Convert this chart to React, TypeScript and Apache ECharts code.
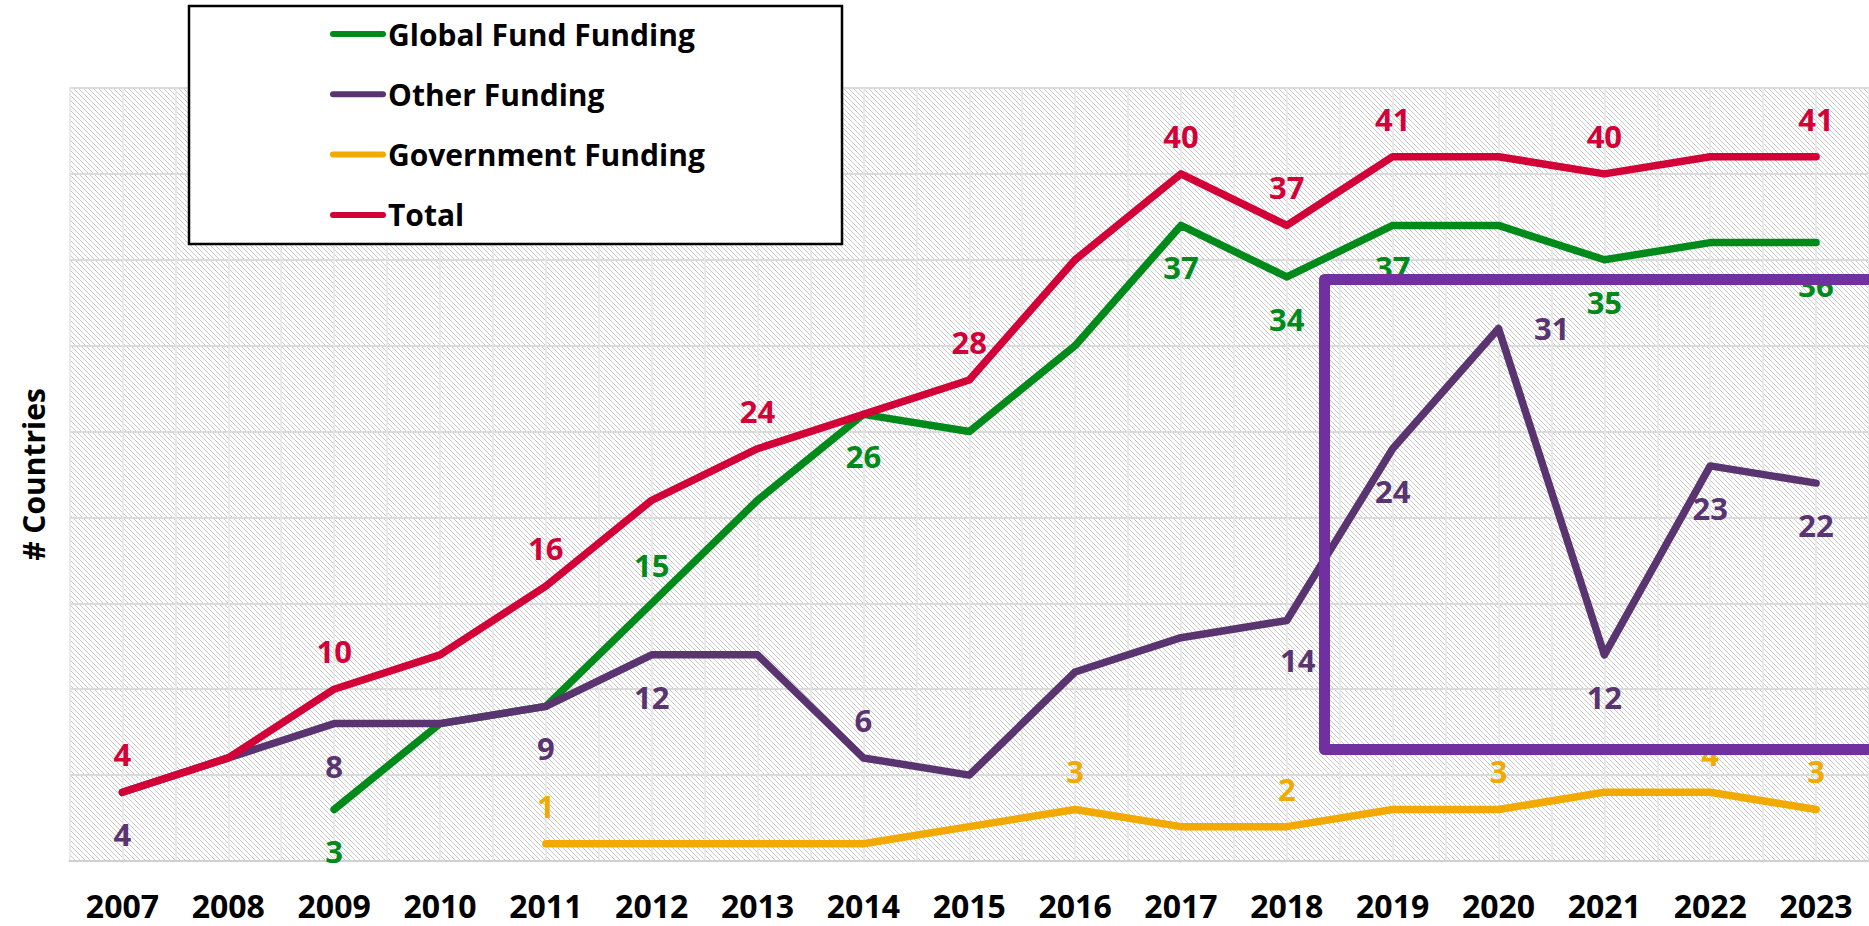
import React, { useEffect, useRef } from "react";
import * as echarts from "echarts";

const years = ["2007","2008","2009","2010","2011","2012","2013","2014","2015","2016","2017","2018","2019","2020","2021","2022","2023"];
const globalFund = ["-","-",3,8,9,15,21,26,25,30,37,34,37,37,35,36,36];
const otherFunding = [4,6,8,8,9,12,12,6,5,11,13,14,24,31,12,23,22];
const government = ["-","-","-","-",1,1,1,1,2,3,2,2,3,3,4,4,3];
const total = [4,6,10,12,16,21,24,26,28,35,40,37,41,41,40,41,41];

// which points carry a value label, and where it sits
const globalFundLabels: Record<string, string> = { "2009": "bottom", "2012": "top", "2014": "bottom", "2017": "bottom", "2018": "bottom", "2019": "bottom", "2021": "bottom", "2023": "bottom" };
const otherLabels: Record<string, string> = { "2007": "bottom", "2009": "bottom", "2011": "bottom", "2012": "bottom", "2014": "top", "2018": "bottom", "2019": "bottom", "2020": "right", "2021": "bottom", "2022": "bottom", "2023": "bottom" };
const governmentLabels: Record<string, string> = { "2011": "top", "2016": "top", "2018": "top", "2020": "top", "2022": "top", "2023": "top" };
const totalLabels: Record<string, string> = { "2007": "top", "2009": "top", "2011": "top", "2013": "top", "2015": "top", "2017": "top", "2018": "top", "2019": "top", "2021": "top", "2023": "top" };

const COLORS = {
  global: "#008a1a",
  other: "#5a3470",
  gov: "#f2a900",
  total: "#d30038",
};

const FONT = "'Open Sans', 'DejaVu Sans', sans-serif";
const LEGEND_ICON = "path://M3,0L53,0A3,3,0,0,1,53,6L3,6A3,3,0,0,1,3,0Z";

function buildData(values: (number | string)[], labels: Record<string, string>, color: string) {
  return values.map((v, i) => {
    const pos = labels[years[i]];
    if (!pos || v === "-") return v;
    const label: any = {
      show: true,
      position: pos,
      distance: pos === "top" ? 22 : pos === "bottom" ? 26 : 35,
      color,
      opacity: 1,
      fontSize: 31,
      lineHeight: 31,
      fontWeight: "bold",
      fontFamily: FONT,
    };
    if (years[i] === "2018" && pos === "bottom" && color === COLORS.other) label.offset = [11, -3];
    return { value: v, label };
  });
}

function makeSeries(name: string, values: (number | string)[], labels: Record<string, string>, color: string) {
  return {
    name,
    type: "line",
    data: buildData(values, labels, color),
    symbol: "circle",
    symbolSize: 1,
    itemStyle: { color: "rgba(0,0,0,0)", borderWidth: 0 },
    lineStyle: { color, width: 7.5, cap: "round", join: "round" },
    label: { show: false },
    emphasis: { disabled: true },
    connectNulls: false,
  };
}

export default function App() {
  const ref = useRef<HTMLDivElement>(null);
  useEffect(() => {
    document.body.style.margin = "0";
    if (!ref.current) return;
    const chart = echarts.init(ref.current, undefined, { renderer: "svg" });

    const cv = document.createElement("canvas");
    cv.width = 5;
    cv.height = 5;
    const ctx = cv.getContext("2d")!;
    ctx.fillStyle = "#ffffff";
    ctx.fillRect(0, 0, 5, 5);
    ctx.fillStyle = "#c8c8c8";
    for (let i = 0; i < 5; i++) ctx.fillRect(i, i, 1, 1);

    const halfBands = years.flatMap((y) => [y + "a", y + "b"]);

    const legendItem = (name: string, color: string) => ({
      name,
      icon: LEGEND_ICON,
      itemStyle: { color, opacity: 1, borderWidth: 0 },
    });

    chart.setOption({
      animation: false,
      backgroundColor: "#ffffff",
      grid: {
        left: 69.5,
        top: 88,
        width: 1819,
        height: 773,
        show: true,
        borderWidth: 0,
        backgroundColor: { image: cv, repeat: "repeat" },
        containLabel: false,
      },
      legend: {
        orient: "vertical",
        left: 325,
        top: 9,
        itemWidth: 56,
        itemHeight: 6,
        itemGap: 20.3,
        z: 10,
        selectedMode: false,
        textStyle: { fontSize: 30, fontWeight: "bold", fontFamily: FONT, color: "#000", lineHeight: 40, padding: [0, 0, 0, -3] },
        data: [
          legendItem("Global Fund Funding", COLORS.global),
          legendItem("Other Funding", COLORS.other),
          legendItem("Government Funding", COLORS.gov),
          legendItem("Total", COLORS.total),
        ],
      },
      xAxis: [
        {
          type: "category",
          data: years,
          boundaryGap: true,
          axisLine: { show: true, lineStyle: { color: "#d0d0d0", width: 2 } },
          axisTick: { show: false },
          axisLabel: { interval: 0, margin: 28, fontSize: 32, lineHeight: 32, fontWeight: "bold", fontFamily: FONT, color: "#000" },
          splitLine: { show: false },
        },
        {
          type: "category",
          data: halfBands,
          boundaryGap: true,
          axisLine: { show: false },
          axisTick: { show: false },
          axisLabel: { show: false },
          splitLine: { show: true, interval: 0, lineStyle: { color: "#e6e6e6", width: 1.5 } },
        },
      ],
      yAxis: {
        type: "value",
        min: 0,
        max: 45,
        interval: 5,
        name: "# Countries",
        nameLocation: "middle",
        nameGap: 21,
        nameTextStyle: { fontSize: 30, fontWeight: "bold", fontFamily: FONT, color: "#000" },
        axisLine: { show: false },
        axisTick: { show: false },
        axisLabel: { show: false },
        splitLine: { show: true, lineStyle: { color: "#dadada", width: 2 } },
      },
      graphic: [
        {
          type: "rect",
          z: 3,
          shape: { x: 189, y: 6, width: 653, height: 238 },
          style: { fill: "#ffffff", stroke: "#000000", lineWidth: 2.5 },
        },
        {
          type: "rect",
          z: 100,
          shape: { x: 1324.5, y: 279.5, width: 700, height: 470 },
          style: { fill: "none", stroke: "#7030a0", lineWidth: 11, lineJoin: "round" },
        },
      ],
      series: [
        makeSeries("Global Fund Funding", globalFund, globalFundLabels, COLORS.global),
        makeSeries("Other Funding", otherFunding, otherLabels, COLORS.other),
        makeSeries("Government Funding", government, governmentLabels, COLORS.gov),
        makeSeries("Total", total, totalLabels, COLORS.total),
      ],
    });
    return () => chart.dispose();
  }, []);
  return <div ref={ref} style={{ width: 1869, height: 926 }} />;
}
